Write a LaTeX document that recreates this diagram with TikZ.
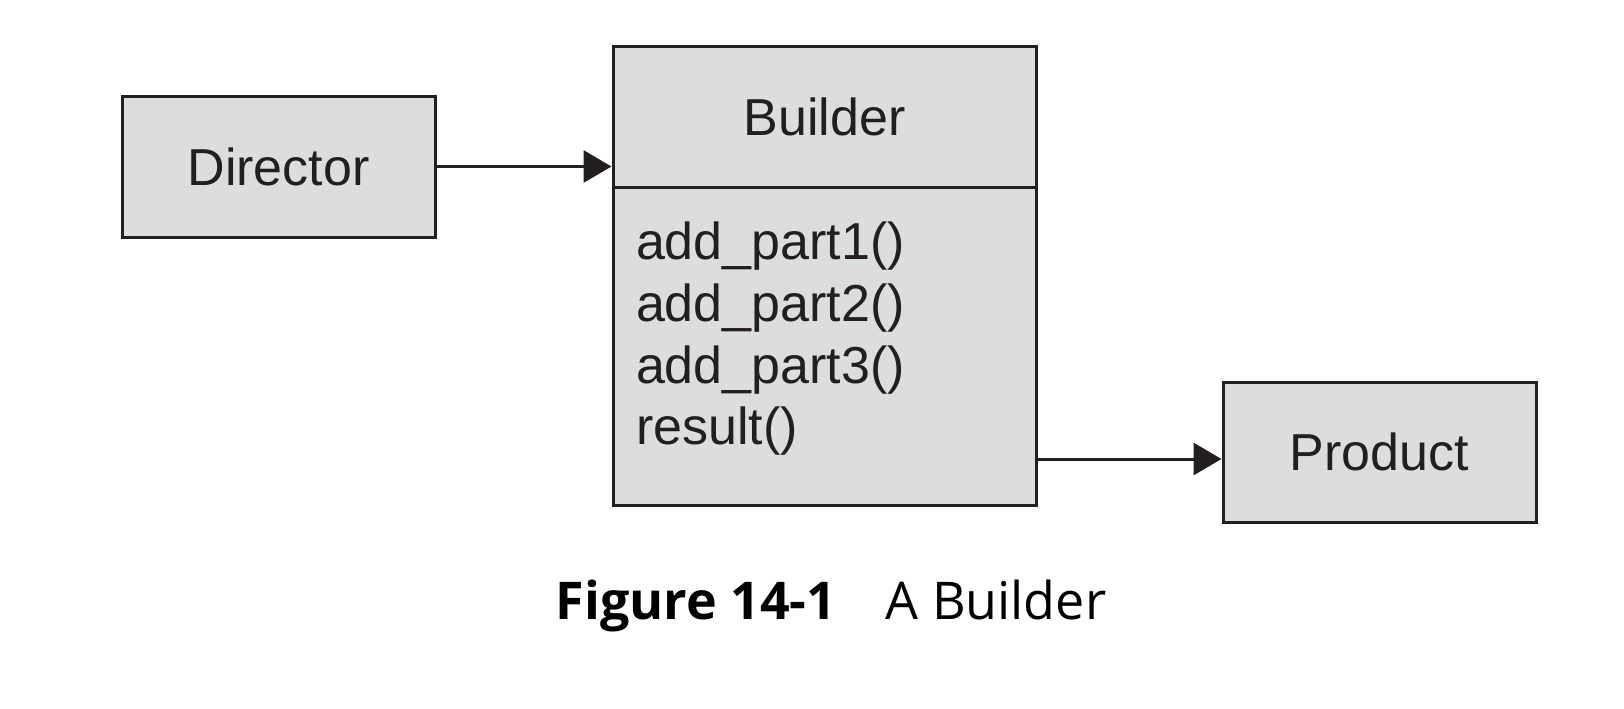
\documentclass[tikz,border=0pt]{standalone}
\usepackage{fontspec}
\setmainfont{Liberation Sans}
\newfontfamily\captionfont{Open Sans}
\usetikzlibrary{arrows.meta, positioning}
\definecolor{boxgray}{HTML}{DCDDDF}
\definecolor{inkblack}{HTML}{231F20}

\begin{document}
\begin{tikzpicture}[x=0.5pt, y=-0.5pt, >={Triangle[length=14pt,width=16pt]},
    umlbox/.style={draw=inkblack, fill=boxgray, line width=1.5pt, inner sep=0pt,
        text=inkblack, font=\fontsize{26}{30.8}\selectfont},
    link/.style={->, draw=inkblack, line width=1.5pt}]

    % Page frame
    \useasboundingbox (0,0) rectangle (1624,708);

    % Classes
    \node[umlbox, minimum width=156.5pt, minimum height=70.5pt] (director) at (278.5,166.5) {Director};
    \node[umlbox, minimum width=211.5pt, minimum height=70.5pt] (header) at (824.5,116.5) {Builder};
    \node[umlbox, below=-1.5pt of header, minimum width=211.5pt, minimum height=159pt,
        text width=188.5pt, inner xsep=11.5pt, align=left] (body)
        {add\_part1()\\add\_part2()\\add\_part3()\\result()\rule[-12.5pt]{0pt}{0pt}};
    \node[umlbox, minimum width=156.5pt, minimum height=70pt] (product) at (1379.5,452) {Product};

    % Associations
    \draw[link] (director.east) -- (director.east -| header.west);
    \coordinate (prodin) at ([yshift=-3.5pt]product.west);
    \draw[link] (body.east |- prodin) -- (prodin);

    % Caption
    \node[anchor=base, text=black, font=\captionfont\fontsize{26}{30}\selectfont] (caption) at (831,619)
        {\textbf{Figure 14-1}\hspace{0.95em}A Builder};

\end{tikzpicture}
\end{document}
